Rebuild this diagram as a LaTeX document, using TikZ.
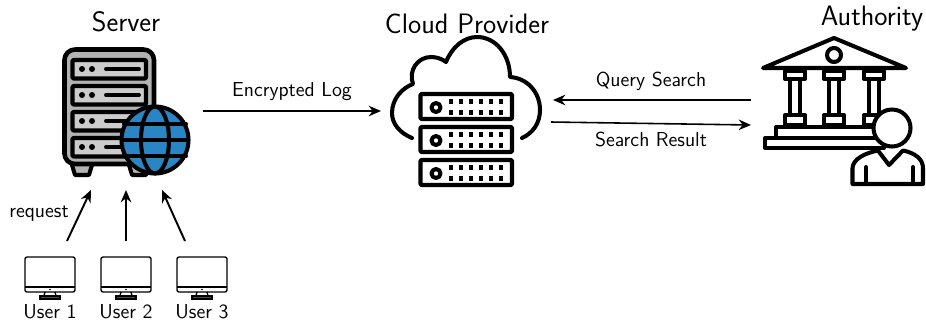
\documentclass[tikz,border=0pt]{standalone}
\usepackage{xcolor}
\usetikzlibrary{arrows.meta}
\definecolor{rackgray}{HTML}{B3B3B3}
\definecolor{slotgray}{HTML}{CCCCCC}
\definecolor{globeblue}{HTML}{2A85C5}
\tikzset{
  icon/.style={line width=2.3pt,line join=round,line cap=round},
  link/.style={->,line width=0.9pt},
  userlink/.style={->,line width=1.1pt},
  title/.style={font=\sffamily\fontsize{16}{18}\selectfont,inner sep=0pt},
  small/.style={font=\sffamily\fontsize{11.5}{13}\selectfont,inner sep=0pt}
}
\begin{document}
\begin{tikzpicture}[x=0.02cm,y=-0.02cm,>={Stealth[length=7pt,width=6pt]}]
\useasboundingbox (0,0) rectangle (926,322);

% server
\draw [icon,fill=rackgray] (72,165) -- (75,175) -- (89,175) -- (92,165);
\draw [icon,fill=rackgray] (129,165) -- (132,175) -- (146,175) -- (149,165);
\draw [icon,line width=2.6pt,fill=rackgray,rounded corners=6pt] (64.5,49.5) rectangle (154,164);
\foreach \y in {60,86,112,138}{
  \draw [icon,fill=slotgray,rounded corners=0.5pt] (72.5,\y) rectangle (146,\y+18.5);
  \fill (82,\y+9) circle [radius=3];
  \fill (92,\y+9) circle [radius=3];
  \draw [line width=2.2pt,line cap=round] (106,\y+9) -- (139,\y+9);
}
% globe
\draw [icon,fill=globeblue] (155,140) circle [radius=33.5];
\draw [icon] (124,124) -- (186,124) (122,140) -- (188,140) (124,156) -- (186,156);
\draw [icon] (155,140) ellipse [x radius=14,y radius=33.5];

% cloud
\draw [icon] (412,138) .. controls (400,133) and (392,124) .. (392,113)
  .. controls (392,99) and (402,88) .. (413,84)
  .. controls (408,70) and (418,57) .. (431,57)
  .. controls (437,57) and (442,59) .. (446,62)
  .. controls (452,47) and (464,37) .. (477,37)
  .. controls (496,37) and (510,55) .. (510,77)
  .. controls (527,78) and (540,92) .. (540,110)
  .. controls (540,123) and (533,133) .. (522,138);
\foreach \y in {94,127,160}{
  \draw [icon,fill=white,rounded corners=0.5pt] (420.5,\y) rectangle (512,\y+25);
  \draw [icon] (436,\y+13.5) circle [radius=4.5];
  \foreach \x in {451,461,471,481,491,501}{
    \fill (\x-2.3,\y+5) rectangle (\x+2.3,\y+10);
    \fill (\x-2.3,\y+16) rectangle (\x+2.3,\y+21);
  }
}

% authority
\draw [icon,fill=white] (763,68) -- (834,38) -- (906,68) -- cycle;
\draw [icon] (834,55) circle [radius=7];
\foreach \x in {795,834,874}{
  \draw [icon] (\x-5,80) -- (\x-5,115) (\x+5,80) -- (\x+5,115);
  \draw [icon] (\x-10,71) rectangle (\x+10,79);
  \draw [icon] (\x-10,115) rectangle (\x+10,125);
}
\draw [icon] (776,138) -- (776,127) -- (880,127);
\draw [icon,fill=white] (884,138) -- (765,138) -- (765,148) -- (884,148);
\draw [icon,fill=white] (852.5,184) -- (852.5,168) .. controls (853,159) and (865,153) .. (878,150.5)
  -- (889,165) -- (903,150.5) .. controls (915,153) and (923,159) .. (923,168) -- (923,184) -- cycle;
\draw [icon] (866,167) -- (866,184) (913,167) -- (913,184);
\draw [icon,fill=white] (892,128) circle [radius=18.5];

% users
\foreach \x/\n in {50/1,126/2,202/3}{
  \draw [line width=0.8pt,rounded corners=1.2pt] (\x-25,257) rectangle (\x+25,292);
  \draw [line width=0.8pt] (\x-25,287) -- (\x+25,287);
  \fill (\x,289.5) circle [radius=0.9];
  \draw [line width=0.8pt] (\x-5,292) -- (\x-6,296) (\x+5,292) -- (\x+6,296);
  \draw [line width=0.8pt,fill=black!70] (\x-10,296) rectangle (\x+10,299);
  \node [small] (user\n) at (\x,312) {User \n};
}

\node [title] (serverlabel) at (126,22) {Server};
\node [title] (cloudlabel) at (467,24) {Cloud Provider};
\node [title] (authoritylabel) at (872,19) {Authority};
\node [small] (loglabel) at (292,92) {Encrypted Log};
\node [small] (querylabel) at (651,81) {Query Search};
\node [small] (resultlabel) at (651,139) {Search Result};
\node [small] (requestlabel) at (39,214) {request};

\coordinate (logstart) at (203,111);
\coordinate (logend) at (381,111);
\coordinate (querystart) at (751,100);
\coordinate (queryend) at (553,100);
\coordinate (resultstart) at (551,122);
\coordinate (resultend) at (751,125);
\draw [link] (logstart) -- (logend);
\draw [link] (querystart) -- (queryend);
\draw [link] (resultstart) -- (resultend);

\coordinate (port1) at (91,190);
\coordinate (port2) at (126,190);
\coordinate (port3) at (162,190);
\coordinate (send1) at (67,241);
\coordinate (send2) at (126,241);
\coordinate (send3) at (185,241);
\foreach \n in {1,2,3}
  \draw [userlink] (send\n) -- (port\n);
\end{tikzpicture}
\end{document}
